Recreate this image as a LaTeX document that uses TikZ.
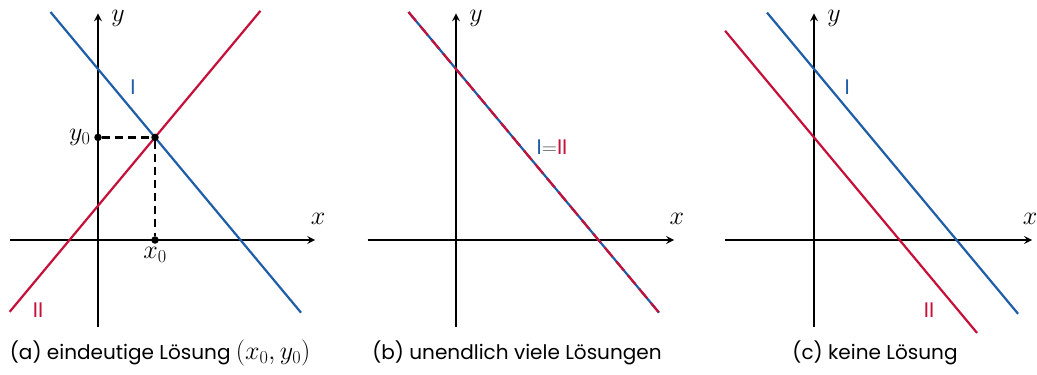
\RequirePackage{fix-cm}
\documentclass[tikz,border=0pt]{standalone}
\usepackage{fontspec}
\usetikzlibrary{positioning}
\newfontfamily\labelfont{Poppins}
\definecolor{linblue}{RGB}{30,94,168}
\definecolor{linred}{RGB}{197,16,58}
\tikzset{
  axis/.style={->, line width=2.4pt},
  gerade/.style={line width=2.2pt},
  hilfslinie/.style={line width=2.4pt, dash pattern=on 8pt off 5pt},
  punkt/.style={circle, fill, inner sep=0pt, minimum size=7.5pt},
  mathlabel/.style={font=\fontsize{26}{30}\selectfont},
  roman/.style={font=\labelfont\fontsize{21}{25}\selectfont},
  caption/.style={anchor=base, font=\labelfont\fontsize{20}{24}\selectfont},
}
\begin{document}
\begin{tikzpicture}[>=stealth]
  \useasboundingbox (-3.439,-4.702) rectangle (32.947,8.421);

  % (a) eindeutige Loesung
  \begin{scope}
    \draw[axis] (-3.1,0) -- (7.62,0);
    \draw[axis] (0,-3.05) -- (0,7.95);
    \node[mathlabel] (xa) at (7.72,0.74) {$x$};
    \node[mathlabel] (ya) at (0.70,7.79) {$y$};

    \draw[gerade, linblue] (-1.667,8) -- (7.125,-2.55);
    \draw[gerade, linred] (-3.1,-2.52) -- (5.7,8.04);

    \node[punkt] (Sa) at (2,3.6) {};
    \node[punkt] (y0a) at (0,3.6) {};
    \node[punkt] (x0a) at (2,0) {};
    \draw[hilfslinie] (y0a) -- (Sa) -- (x0a);

    \node[mathlabel, left=0pt of y0a] (y0lab) {$y_0$};
    \node[mathlabel, below=0pt of x0a] (x0lab) {$x_0$};

    \node[roman, text=linblue] (Ia) at (1.23,5.37) {I};
    \node[roman, text=linred] (IIa) at (-2.1,-2.46) {II};

    \node[caption] (capa) at (2.18,-4.21)
      {(a) eindeutige Lösung {\fontsize{26}{30}\selectfont$(x_0,y_0)$}};
  \end{scope}

  % (b) unendlich viele Loesungen
  \begin{scope}[xshift=12.561cm]
    \draw[axis] (-3.1,0) -- (7.65,0);
    \draw[axis] (0,-3.05) -- (0,7.95);
    \node[mathlabel] (xb) at (7.75,0.74) {$x$};
    \node[mathlabel] (yb) at (0.70,7.79) {$y$};

    \draw[gerade, linblue] (-1.667,8) -- (7.125,-2.55);
    \draw[gerade, linred, dash pattern=on 12pt off 6pt] (-1.667,8) -- (7.125,-2.55);

    \node[roman] (Ib) at (3.37,3.26)
      {\textcolor{linblue}{I}\textcolor{black!70}{$=$}\textcolor{linred}{II}};

    \node[caption] (capb) at (2.14,-4.21) {(b) unendlich viele Lösungen};
  \end{scope}

  % (c) keine Loesung
  \begin{scope}[xshift=25.123cm]
    \draw[axis] (-3.12,0) -- (7.65,0);
    \draw[axis] (0,-3.05) -- (0,7.95);
    \node[mathlabel] (xc) at (7.58,0.74) {$x$};
    \node[mathlabel] (yc) at (0.70,7.79) {$y$};

    \draw[gerade, linblue] (-1.65,7.98) -- (7.16,-2.59);
    \draw[gerade, linred] (-3.12,7.34) -- (5.72,-3.26);

    \node[roman, text=linblue] (Ic) at (1.16,5.37) {I};
    \node[roman, text=linred] (IIc) at (4.04,-2.46) {II};

    \node[caption] (capc) at (2.14,-4.21) {(c) keine Lösung};
  \end{scope}
\end{tikzpicture}
\end{document}
